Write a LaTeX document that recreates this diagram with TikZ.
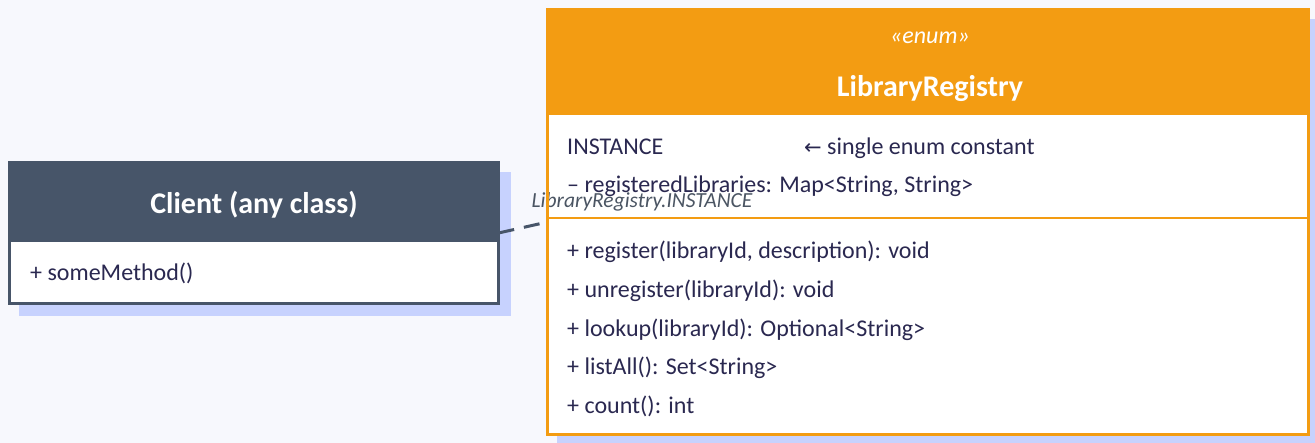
\documentclass[tikz,border=0pt]{standalone}
\usepackage{fontspec}
\setmainfont{Carlito}
\newfontfamily\arrowfont{DejaVu Sans}
\definecolor{bgc}{HTML}{F7F8FD}
\definecolor{slate}{HTML}{475569}
\definecolor{shadowc}{HTML}{C7D2FE}
\definecolor{orangec}{HTML}{F39C12}
\definecolor{inkc}{HTML}{2A2850}
\definecolor{labelc}{HTML}{4B5563}
\begin{document}
\begin{tikzpicture}[x=1pt,y=-1pt,
  boxnode/.style={rectangle, inner sep=0pt, outer sep=0pt, fill=white},
  member/.style={anchor=base west, inner sep=0pt, text=inkc, font=\fontsize{24}{28}\selectfont},
  titletext/.style={anchor=base, inner sep=0pt, text=white, font=\bfseries\fontsize{30}{36}\selectfont},
  shadowbox/.style={fill=shadowc},
  dep/.style={draw=slate, line width=3pt, dash pattern=on 16pt off 10pt}
]
\fill[bgc] (0,0) rectangle (1315,443);
\useasboundingbox (0,0) rectangle (1315,443);
% shadows
\fill[shadowbox] (19,172) rectangle (511,316);
\fill[shadowbox] (557,19) rectangle (1321,447);
% client box
\node[boxnode, minimum width=489pt, minimum height=141pt] (client) at (254,233) {};
\fill[slate] (client.north west) rectangle ([yshift=-79.5pt]client.north east);
% registry box
\node[boxnode, minimum width=761pt, minimum height=425pt] (registry) at (928,222) {};
\fill[orangec] (registry.north west) rectangle ([yshift=-105.5pt]registry.north east);
\draw[orangec, line width=2pt] ([yshift=-208.5pt]registry.north west) -- ([yshift=-208.5pt]registry.north east);
% connector
\draw[dep] (client.east) -- (registry.west);
\node[anchor=base, inner sep=0pt, text=labelc, font=\itshape\fontsize{21.5}{26}\selectfont] (deplabel) at (642,208) {LibraryRegistry.INSTANCE};
% borders
\draw[slate, line width=3pt] (client.north west) rectangle (client.south east);
\draw[orangec, line width=3pt] (registry.north west) rectangle (registry.south east);
% client texts
\node[titletext] (clienttitle) at (254,214) {Client (any class)};
\node[member] (clientm1) at (30,281) {+ someMethod()};
% registry texts
\node[anchor=base, inner sep=0pt, text=white, font=\itshape\fontsize{24}{28}\selectfont] (stereo) at (930,44) {«enum»};
\node[titletext] (regtitle) at (930,97) {LibraryRegistry};
\node[member] (attr1) at (567,155) {INSTANCE};
\node[member] (attr1note) at (804,155) {{\arrowfont\fontsize{21}{24}\selectfont ←} single enum constant};
\node[member] (attr2) at (567,193) {– registeredLibraries: Map<String, String>};
\node[member] (op1) at (567,258.5) {+ register(libraryId, description): void};
\node[member] (op2) at (567,297.3) {+ unregister(libraryId): void};
\node[member] (op3) at (567,336.1) {+ lookup(libraryId): Optional<String>};
\node[member] (op4) at (567,374.9) {+ listAll(): Set<String>};
\node[member] (op5) at (567,413.7) {+ count(): int};
\end{tikzpicture}
\end{document}
